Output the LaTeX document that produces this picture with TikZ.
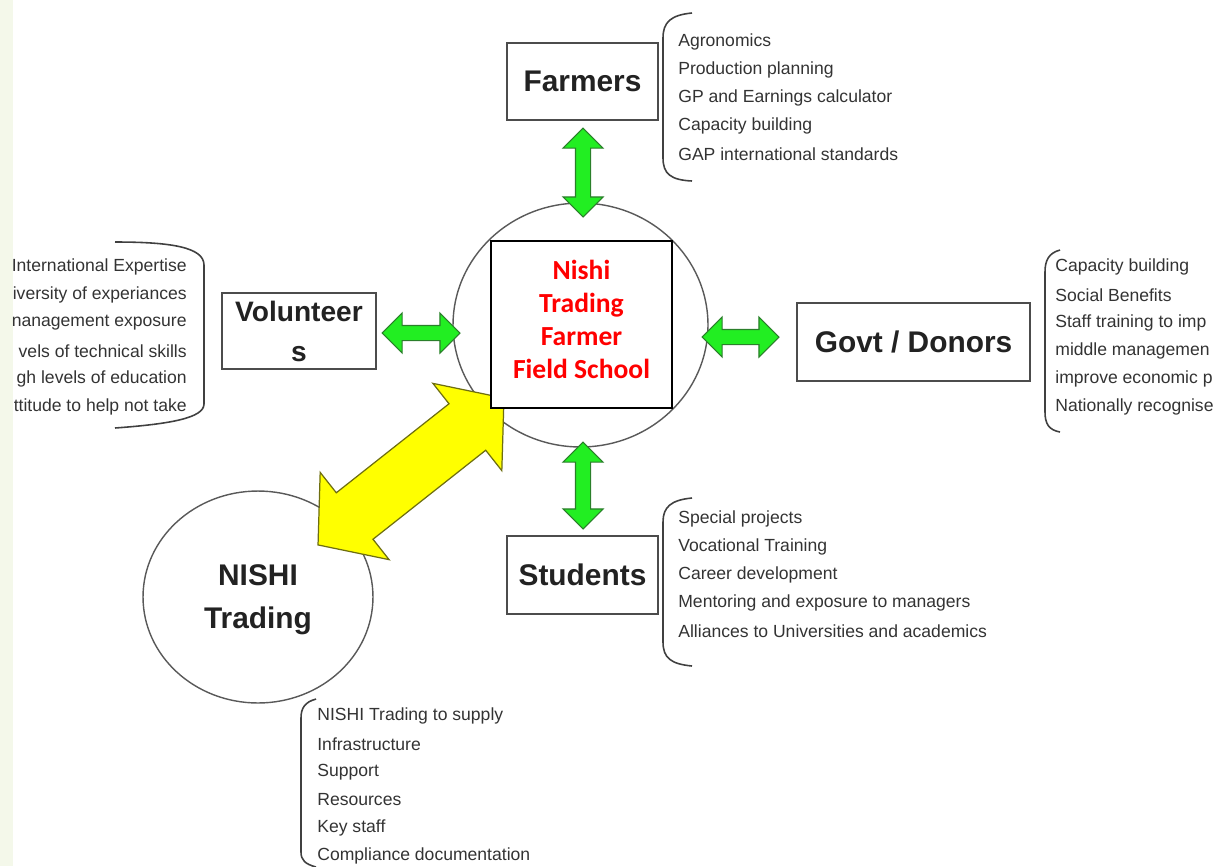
\documentclass[tikz,border=0pt]{standalone}
\usepackage{fontspec}
\setmainfont{Liberation Sans}
\newfontfamily\calibri{Carlito}
\usetikzlibrary{shapes.geometric, shapes.arrows}
\definecolor{Lime}{HTML}{22EE22}
\definecolor{LimeEdge}{HTML}{2A7F2A}
\definecolor{Lemon}{HTML}{FFFF00}
\definecolor{LemonEdge}{HTML}{6E6E10}
\definecolor{Ink}{HTML}{222222}
\definecolor{Pale}{HTML}{F4F8EA}

\tikzset{
  role/.style={draw=black!70, line width=1.1pt, fill=white, font=\fontsize{17}{22.8}\selectfont\bfseries, text=Ink, align=center, inner sep=0pt},
  hub/.style={ellipse, draw=black!65, line width=0.8pt, fill=white, inner sep=0pt},
  item/.style={inner sep=0pt, font=\fontsize{10}{12}\selectfont, text=black!80},
  link/.style={double arrow, draw=LimeEdge, fill=Lime, line width=0.6pt, inner xsep=0pt, inner ysep=0.14cm,
               minimum width=0.78cm, double arrow head extend=0.25cm},
  brace/.style={draw=black!75, line width=0.9pt},
}

\begin{document}
\begin{tikzpicture}[x=0.02cm, y=-0.02cm]
    \useasboundingbox (0,0) rectangle (1213,866);
    \fill[Pale] (0,0) rectangle (13,866);

    % the school and the trading company
    \node[hub, minimum width=5.1cm, minimum height=4.88cm] (hub) at (580.5,325) {};
    \node[hub, minimum width=4.6cm, minimum height=4.24cm, font=\fontsize{17}{24.5}\selectfont\bfseries, text=Ink, align=center,
          text depth=0pt] (nishi) at (258,597) {NISHI\\Trading};

    % big two-way link to the trading company
    \node[double arrow, draw=LemonEdge, fill=Lemon, line width=0.7pt, minimum height=4.74cm, minimum width=2.2cm,
          inner xsep=0pt, inner ysep=0.58cm, double arrow head extend=0.52cm, double arrow tip angle=100, rotate=38.3] (supply) at (411,471.5) {};

    \node[draw=black, line width=1.4pt, fill=white, minimum width=3.62cm, minimum height=3.34cm, text=red, text depth=6pt,
          font=\calibri\fontsize{15.7}{18.8}\selectfont\bfseries, align=center] (school) at (581.5,324.5) {Nishi\\Trading\\Farmer\\Field School};

    % partners
    \node[role, minimum width=3.02cm, minimum height=1.54cm] (farmers) at (582.5,81.5) {Farmers};
    \node[role, minimum width=3.08cm, minimum height=1.52cm, font=\fontsize{16}{22.8}\selectfont\bfseries] (volunteers) at (299,331) {Volunteer\\s};
    \node[role, minimum width=4.66cm, minimum height=1.56cm] (govt) at (913.5,342) {Govt / Donors};
    \node[role, minimum width=3.02cm, minimum height=1.56cm] (students) at (582.5,575) {Students};

    \node[link, minimum height=1.78cm, rotate=90] (up) at (583,172.5) {};
    \node[link, minimum height=1.74cm, rotate=90] (down) at (583,485.5) {};
    \node[link, minimum height=1.56cm] (left) at (421,333) {};
    \node[link, minimum height=1.54cm] (right) at (740.5,337) {};

    % brackets
    \draw[brace] (692,13) .. controls (671,15) and (663,22) .. (663,38) -- (663,158) .. controls (663,174) and (671,180) .. (692,181);
    \draw[brace] (692,498) .. controls (671,500) and (663,507) .. (663,522) -- (663,642) .. controls (663,658) and (671,664) .. (692,666);
    \draw[brace] (1060,250) .. controls (1049,253) and (1045,260) .. (1045,272) -- (1045,412) .. controls (1045,424) and (1049,430) .. (1060,432);
    \draw[brace] (316,699) .. controls (305,702) and (301,708) .. (301,718) -- (301,852) .. controls (301,860) and (305,864) .. (316,867);
    \draw[brace] (115,242) .. controls (170,242) and (204,247) .. (204,265) -- (204,404) .. controls (204,418) and (170,424) .. (115,428);

    % lists
    \foreach \entry [count=\i] in {Agronomics, Production planning, GP and Earnings calculator, Capacity building, GAP international standards}
        \node[item, anchor=west] (farm\i) at (678,{14+28*\i}) {\entry};
    \foreach \entry [count=\i] in {Special projects, Vocational Training, Career development, Mentoring and exposure to managers, Alliances to Universities and academics}
        \node[item, anchor=west] (stud\i) at (678,{491+28*\i}) {\entry};
    \foreach \entry [count=\i] in {Capacity building, Social Benefits, Staff training to imp, middle managemen, improve economic p, Nationally recognise}
        \node[item, anchor=west] (gov\i) at (1055,{239+28*\i}) {\entry};
    \foreach \entry [count=\i] in {International Expertise, iversity of experiances, nanagement exposure, vels of technical skills, gh levels of education, ttitude to help not take}
        \node[item, anchor=east] (vol\i) at (187,{239+28*\i}) {\entry};
    \foreach \entry [count=\i] in {NISHI Trading to supply, Infrastructure, Support, Resources, Key staff, Compliance documentation}
        \node[item, anchor=west] (sup\i) at (317,{688+28*\i}) {\entry};
\end{tikzpicture}
\end{document}
